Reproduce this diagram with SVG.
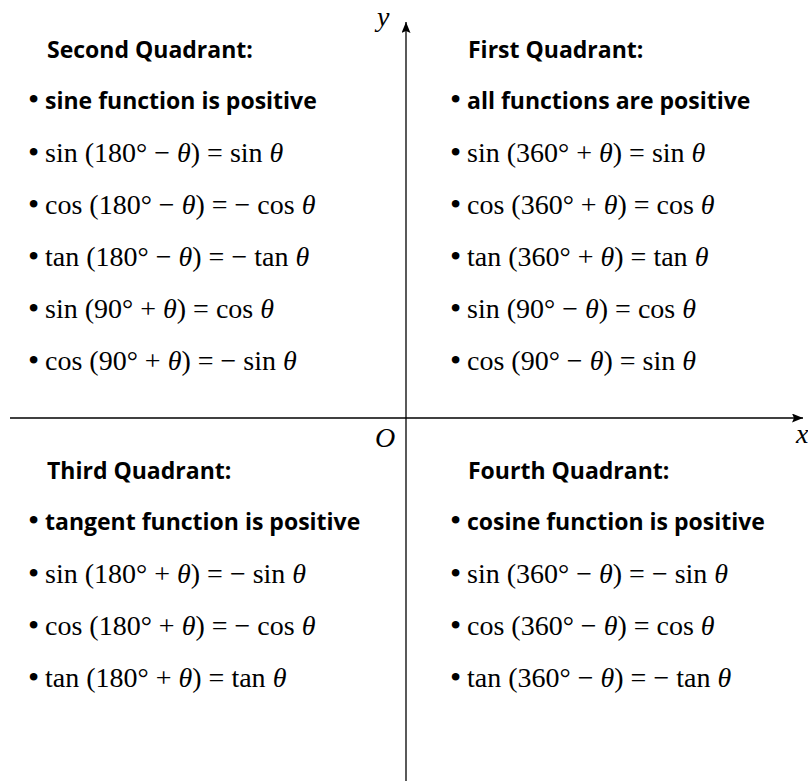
<svg xmlns="http://www.w3.org/2000/svg" width="808" height="781" viewBox="0 0 808 781">
  <style>
    .hd { font-family: "Open Sans", "Liberation Sans", sans-serif; font-weight: 700; font-size: 23px; fill: #000; }
    .m { font-family: "Liberation Serif", "DejaVu Serif", serif; font-size: 28px; fill: #000; }
    .bl { font-family: "Liberation Serif", "DejaVu Serif", serif; font-size: 32px; fill: #000; }
    .lb { font-family: "Liberation Serif", "DejaVu Serif", serif; font-size: 28px; font-style: italic; fill: #000; }
    .it { font-style: italic; }
    .axis { stroke: #000; stroke-width: 1.3; fill: none; }
  </style>
  <defs>
    <marker id="arrow" markerUnits="userSpaceOnUse" markerWidth="12" markerHeight="10" refX="11" refY="4.5" orient="auto">
      <path d="M0,0 L11,4.5 L0,9 L2,4.5 Z" fill="#000"/>
    </marker>
  </defs>
  <rect width="808" height="781" fill="#fff"/>

  <g id="connectors">
    <line class="axis" x1="406" y1="781" x2="406" y2="22" marker-end="url(#arrow)"/>
    <line class="axis" x1="10" y1="418" x2="803" y2="418" marker-end="url(#arrow)"/>
  </g>

  <g id="axis-labels">
    <text class="lb" x="377" y="26">y</text>
    <text class="lb" x="796" y="443">x</text>
    <text class="lb" x="375" y="447">O</text>
  </g>

  <g id="second-quadrant">
    <text class="hd" x="47" y="58">Second Quadrant:</text>
    <text class="bl" x="28" y="110">•</text>
    <text class="hd" x="45" y="109">sine function is positive</text>
    <text class="bl" x="28" y="163">•</text>
    <text class="m" x="45" y="162">sin (180° − <tspan class="it">θ</tspan>) = sin <tspan class="it">θ</tspan></text>
    <text class="bl" x="28" y="215">•</text>
    <text class="m" x="45" y="214">cos (180° − <tspan class="it">θ</tspan>) = − cos <tspan class="it">θ</tspan></text>
    <text class="bl" x="28" y="267">•</text>
    <text class="m" x="45" y="266">tan (180° − <tspan class="it">θ</tspan>) = − tan <tspan class="it">θ</tspan></text>
    <text class="bl" x="28" y="319">•</text>
    <text class="m" x="45" y="318">sin (90° + <tspan class="it">θ</tspan>) = cos <tspan class="it">θ</tspan></text>
    <text class="bl" x="28" y="371">•</text>
    <text class="m" x="45" y="370">cos (90° + <tspan class="it">θ</tspan>) = − sin <tspan class="it">θ</tspan></text>
  </g>

  <g id="first-quadrant">
    <text class="hd" x="468" y="58">First Quadrant:</text>
    <text class="bl" x="450" y="110">•</text>
    <text class="hd" x="467" y="109">all functions are positive</text>
    <text class="bl" x="450" y="163">•</text>
    <text class="m" x="467" y="162">sin (360° + <tspan class="it">θ</tspan>) = sin <tspan class="it">θ</tspan></text>
    <text class="bl" x="450" y="215">•</text>
    <text class="m" x="467" y="214">cos (360° + <tspan class="it">θ</tspan>) = cos <tspan class="it">θ</tspan></text>
    <text class="bl" x="450" y="267">•</text>
    <text class="m" x="467" y="266">tan (360° + <tspan class="it">θ</tspan>) = tan <tspan class="it">θ</tspan></text>
    <text class="bl" x="450" y="319">•</text>
    <text class="m" x="467" y="318">sin (90° − <tspan class="it">θ</tspan>) = cos <tspan class="it">θ</tspan></text>
    <text class="bl" x="450" y="371">•</text>
    <text class="m" x="467" y="370">cos (90° − <tspan class="it">θ</tspan>) = sin <tspan class="it">θ</tspan></text>
  </g>

  <g id="third-quadrant">
    <text class="hd" x="47" y="479">Third Quadrant:</text>
    <text class="bl" x="28" y="531">•</text>
    <text class="hd" x="45" y="530">tangent function is positive</text>
    <text class="bl" x="28" y="584">•</text>
    <text class="m" x="45" y="583">sin (180° + <tspan class="it">θ</tspan>) = − sin <tspan class="it">θ</tspan></text>
    <text class="bl" x="28" y="636">•</text>
    <text class="m" x="45" y="635">cos (180° + <tspan class="it">θ</tspan>) = − cos <tspan class="it">θ</tspan></text>
    <text class="bl" x="28" y="688">•</text>
    <text class="m" x="45" y="687">tan (180° + <tspan class="it">θ</tspan>) = tan <tspan class="it">θ</tspan></text>
  </g>

  <g id="fourth-quadrant">
    <text class="hd" x="468" y="479">Fourth Quadrant:</text>
    <text class="bl" x="450" y="531">•</text>
    <text class="hd" x="467" y="530">cosine function is positive</text>
    <text class="bl" x="450" y="584">•</text>
    <text class="m" x="467" y="583">sin (360° − <tspan class="it">θ</tspan>) = − sin <tspan class="it">θ</tspan></text>
    <text class="bl" x="450" y="636">•</text>
    <text class="m" x="467" y="635">cos (360° − <tspan class="it">θ</tspan>) = cos <tspan class="it">θ</tspan></text>
    <text class="bl" x="450" y="688">•</text>
    <text class="m" x="467" y="687">tan (360° − <tspan class="it">θ</tspan>) = − tan <tspan class="it">θ</tspan></text>
  </g>
</svg>
